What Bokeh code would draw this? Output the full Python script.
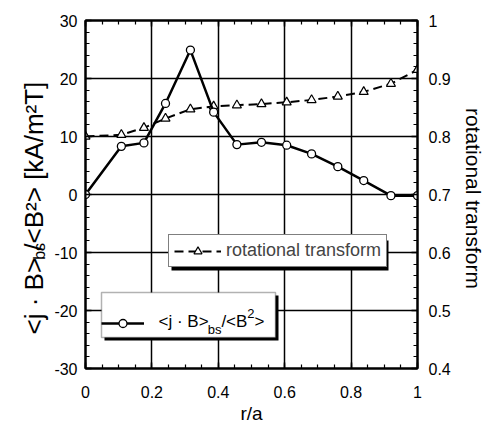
from math import pi
import numpy as np
from bokeh.plotting import figure
from bokeh.models import (LinearAxis, Range1d, FixedTicker, Label, Legend,
                          LegendItem, BoxAnnotation, Grid)
from bokeh.embed import file_html
from bokeh.resources import INLINE

# ---------------- data ----------------
r_a = [0.0, 0.108, 0.176, 0.241, 0.316, 0.386, 0.456, 0.530, 0.606, 0.681, 0.760, 0.838, 0.920, 1.0]
j_dot_b = [0.0, 8.3, 8.9, 15.7, 24.9, 14.2, 8.6, 9.0, 8.5, 7.0, 4.8, 2.4, -0.2, -0.2]
iota = [0.800, 0.803, 0.815, 0.831, 0.847, 0.852, 0.854, 0.856, 0.859, 0.863, 0.869, 0.877, 0.891, 0.915]

x_ticks = [0, 0.2, 0.4, 0.6, 0.8, 1.0]
x_tick_labels = ["0", "0.2", "0.4", "0.6", "0.8", "1"]
y_ticks = [-30, -20, -10, 0, 10, 20, 30]
y_tick_labels = ["-30", "-20", "-10", "0", "10", "20", "30"]
iota_ticks = [0.4, 0.5, 0.6, 0.7, 0.8, 0.9, 1.0]
iota_tick_labels = ["0.4", "0.5", "0.6", "0.7", "0.8", "0.9", "1"]

x_label = "r/a"
right_label = "rotational transform"
legend_iota = "rotational transform"
left_label_main = ["<j · B>", "/<B²> [kA/m²T]"]
left_label_sub = "bs"
# (text, role) role: n normal, sub subscript, sup superscript
legend_jb_parts = [("<j · B>", "n"), ("bs", "sub"), ("/<B", "n"), ("2", "sup"), (">", "n")]

# ---------------- layout ----------------
FONT = "Liberation Sans"
W, H = 490, 428
FL, FR, FT, FB = 85, 417, 20, 368  # frame in canvas pixels
X0, X1, Y0, Y1 = 0.0, 1.0, -30.0, 30.0


def dx(px):
    return X0 + (px - FL) / (FR - FL) * (X1 - X0)


def dy(py):
    return Y1 - (py - FT) / (FB - FT) * (Y1 - Y0)


CW = {'<': .584, '>': .584, 'j': .222, ' ': .278, '·': .278, 'B': .667, 'b': .556,
      's': .5, '/': .278, '2': .556, '[': .278, ']': .278, 'k': .5, 'A': .667,
      'm': .833, 'T': .611}


def tw(t, size):
    return sum(CW.get(c, .556) for c in t) * size


p = figure(width=W, height=H, output_backend="svg", toolbar_location=None,
           x_range=Range1d(X0, X1), y_range=Range1d(Y0, Y1),
           x_axis_type=None, y_axis_type=None,
           min_border_left=FL, min_border_right=W - FR,
           min_border_top=FT, min_border_bottom=H - FB)
p.extra_y_ranges = {"iota": Range1d(0.4, 1.0)}
p.outline_line_color = "black"
p.outline_line_width = 2
p.background_fill_color = "white"
p.border_fill_color = "white"

xt = FixedTicker(ticks=x_ticks, minor_ticks=[round(v, 3) for v in np.arange(0, 1.0001, 0.05)])
yt = FixedTicker(ticks=y_ticks, minor_ticks=list(range(-30, 31, 2)))
it = FixedTicker(ticks=iota_ticks, minor_ticks=[round(v, 3) for v in np.arange(0.4, 1.0001, 0.02)])


def style(ax, standoff, show=True):
    ax.axis_line_width = 2
    ax.axis_line_color = "black"
    ax.major_tick_in = 6
    ax.major_tick_out = 0
    ax.minor_tick_in = 4
    ax.minor_tick_out = 0
    ax.major_tick_line_width = 1.5
    ax.minor_tick_line_width = 1.2
    ax.major_label_standoff = standoff
    if show:
        ax.major_label_text_font = FONT
        ax.major_label_text_font_size = "16px"
        ax.major_label_text_color = "black"
    else:
        ax.major_label_text_font_size = "0px"
        ax.major_label_text_color = None


bottom = LinearAxis(ticker=xt, major_label_overrides=dict(zip(x_ticks, x_tick_labels)),
                    axis_label=x_label, axis_label_standoff=2,
                    axis_label_text_font=FONT, axis_label_text_font_size="19px",
                    axis_label_text_font_style="normal", axis_label_text_color="black")
style(bottom, 17)
p.add_layout(bottom, "below")
top = LinearAxis(ticker=xt)
style(top, 0, show=False)
p.add_layout(top, "above")
left = LinearAxis(ticker=yt, major_label_overrides=dict(zip(y_ticks, y_tick_labels)))
style(left, 8)
p.add_layout(left, "left")
right = LinearAxis(ticker=it, y_range_name="iota",
                   major_label_overrides=dict(zip(iota_ticks, iota_tick_labels)))
style(right, 11)
p.add_layout(right, "right")

for dim, tk in ((0, xt), (1, yt)):
    p.add_layout(Grid(dimension=dim, ticker=tk, grid_line_color="black", grid_line_width=1.5))

# ---------------- series ----------------
rt_line = p.line(r_a, iota, y_range_name="iota", line_color="black", line_width=2,
                 line_dash="9 5")
rt_pts = p.scatter(r_a, iota, y_range_name="iota", marker="triangle", size=9,
                   fill_color="white", line_color="black", line_width=1.2)
jb_line = p.line(r_a, j_dot_b, line_color="black", line_width=2.5)
jb_pts = p.scatter(r_a, j_dot_b, marker="circle", size=8, fill_color="white",
                   line_color="black", line_width=1.3)

# ---------------- legends ----------------
box1 = (168, 385, 237, 267)
box2 = (101, 275, 292, 337)
for (L, R, T, B) in (box1, box2):
    p.add_layout(BoxAnnotation(left=dx(L + 3), right=dx(R + 3), top=dy(T + 3), bottom=dy(B + 3),
                               fill_color="black", fill_alpha=1, line_color=None))
L, R, T, B = box2
p.add_layout(BoxAnnotation(left=dx(L), right=dx(R), top=dy(T), bottom=dy(B),
                           fill_color="white", fill_alpha=1, line_color="black",
                           line_width=1.5))

leg1 = Legend(items=[LegendItem(label=legend_iota, renderers=[rt_line, rt_pts])],
              location=(168 - FL, FB - 267), padding=5, margin=0, spacing=0,
              glyph_width=47, glyph_height=20, label_height=20, label_width=155,
              label_standoff=5, label_text_font=FONT, label_text_font_size="18px",
              border_line_color="black", border_line_width=1.5,
              background_fill_color="white", background_fill_alpha=1)
p.add_layout(leg1)

# legend 2: transparent legend (glyph sample only) on top of the white box
leg2 = Legend(items=[LegendItem(label=" ", renderers=[jb_line, jb_pts])],
              location=(101 - FL, FB - 337), padding=8, margin=0, spacing=0,
              glyph_width=43, glyph_height=20, label_height=29, label_width=110,
              label_standoff=5, label_text_font=FONT, label_text_font_size="17px",
              border_line_color=None, background_fill_alpha=0)
p.add_layout(leg2)

# legend 2 text (with sub/superscripts)
xcur = 158
for txt, role in legend_jb_parts:
    size = 17 if role == "n" else 13
    off = {"n": 0, "sub": 8, "sup": -8}[role]
    p.add_layout(Label(x=dx(xcur), y=dy(321 + off), text=txt, text_font=FONT,
                       text_font_size=f"{size}px", text_align="left",
                       text_baseline="alphabetic", text_color="black"))
    xcur += tw(txt, size)

# ---------------- axis labels (in side panels so they are not clipped) ----------------
LS = 26
ystart = 334
main_text = left_label_main[0] + "   " + left_label_main[1]
p.add_layout(Label(x=dx(33), y=dy(ystart), text=main_text, angle=pi / 2,
                   text_font=FONT, text_font_size=f"{LS}px", text_align="left",
                   text_baseline="alphabetic", text_color="black"), "left")
p.add_layout(Label(x=dx(39), y=dy(ystart - 0.98 * tw(left_label_main[0], LS) - 1),
                   text=left_label_sub, angle=pi / 2, text_font=FONT, text_font_size="16px",
                   text_align="left", text_baseline="alphabetic", text_color="black"), "left")

p.add_layout(Label(x=dx(473), y=dy(198), text=right_label, angle=-pi / 2,
                   text_font=FONT, text_font_size="21px", text_align="center",
                   text_baseline="alphabetic", text_color="black"), "right")

open("out.html", "w").write(file_html(p, INLINE))
